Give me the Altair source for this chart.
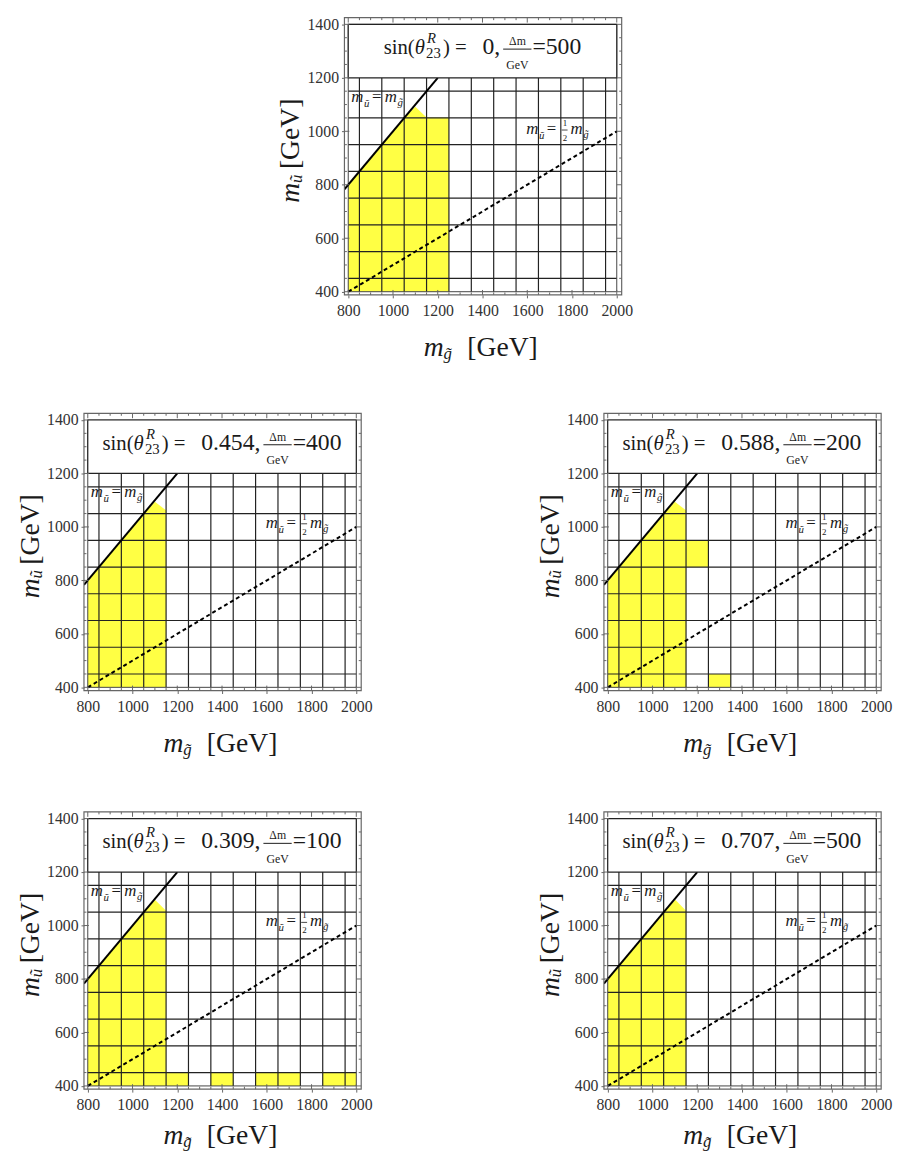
import altair as alt
import pandas as pd

# ---------------- data ----------------
panel_sin = ["0", "0.454", "0.588", "0.309", "0.707"]
panel_dm = ["500", "400", "200", "100", "500"]

# top boundary of the main yellow region (area down to 400)
yellow_x = [
    [800, 1060, 1100, 1150, 1250],
    [800, 1060, 1100, 1150],
    [800, 1060, 1100, 1150],
    [800, 1060, 1100, 1150],
    [800, 1060, 1102, 1150],
]
yellow_y = [
    [800, 1060, 1092, 1052, 1052],
    [800, 1060, 1094, 1062],
    [800, 1060, 1094, 1062],
    [800, 1060, 1096, 1055],
    [800, 1060, 1096, 1055],
]
# extra yellow cells
cell_x1 = [[], [], [1150, 1250], [1150, 1350, 1550, 1850], []]
cell_x2 = [[], [], [1250, 1350], [1250, 1450, 1750, 2000], []]
cell_y1 = [[], [], [850, 400], [400, 400, 400, 400], []]
cell_y2 = [[], [], [950, 450], [450, 450, 450, 450], []]

grid_x = [850, 950, 1050, 1150, 1250, 1350, 1450, 1550, 1650, 1750, 1850, 1950]
grid_y = [450, 550, 650, 750, 850, 950, 1050, 1150]
x_ticks = [800, 1000, 1200, 1400, 1600, 1800, 2000]
y_ticks = [400, 600, 800, 1000, 1200, 1400]
x_minor = [850, 900, 950, 1050, 1100, 1150, 1250, 1300, 1350, 1450, 1500,
           1550, 1650, 1700, 1750, 1850, 1900, 1950]
y_minor = [450, 500, 550, 650, 700, 750, 850, 900, 950, 1050, 1100, 1150,
           1250, 1300, 1350]

diag_x = [783, 1200]
diag_y = [783, 1200]
half_x = [800, 2000]
half_y = [400, 1000]

# ---------------- style ----------------
SERIF = "Liberation Serif"
X0, X1 = 783, 2022
Y0, Y1 = 388, 1425
W = H = 281
YELLOW = "#ffff44"
GRID = "#222222"
FRAME = "#666666"
TXT = "#1a1a1a"

MET = {"s": 0.389, "i": 0.278, "n": 0.5, "(": 0.333, ")": 0.333, "θ": 0.5,
       " ": 0.25, "=": 0.564, ".": 0.25, ",": 0.25, "Δ": 0.612, "m": 0.778,
       "G": 0.722, "e": 0.444, "V": 0.722, "R": 0.611, "[": 0.333, "]": 0.333}


def tw(s, size):
    return sum(MET.get(c, 0.5) for c in s) * size


def px(x):
    return (x - X0) / (X1 - X0) * W


def py(y):
    return (Y1 - y) / (Y1 - Y0) * H


ONE = pd.DataFrame({"k": [0]})


def XS():
    return alt.Scale(domain=[X0, X1], nice=False, zero=False)


def YS():
    return alt.Scale(domain=[Y0, Y1], nice=False, zero=False)


def XAX():
    return alt.Axis(values=x_ticks, format="d", labelFont=SERIF,
                    labelFontSize=16, labelColor="#333333", grid=False,
                    domain=False, tickSize=3, tickColor=FRAME, labelPadding=5,
                    title=None, labelFlush=False)


def YAX():
    return alt.Axis(values=y_ticks, format="d", labelFont=SERIF,
                    labelFontSize=16, labelColor="#333333", grid=False,
                    domain=False, tickSize=3, tickColor=FRAME, labelPadding=3,
                    title=None, labelFlush=False)


def EX(field):
    return alt.X(field, scale=XS(), axis=XAX())


def EY(field):
    return alt.Y(field, scale=YS(), axis=YAX())


def text_at(text, x, y, size, italic=False, angle=0, color=TXT):
    kw = dict(text=text, font=SERIF, fontSize=size, align="left",
              baseline="alphabetic", color=color)
    if italic:
        kw["fontStyle"] = "italic"
    if angle:
        kw["angle"] = angle
    return alt.Chart(ONE).mark_text(**kw).encode(x=alt.value(x), y=alt.value(y))


def bar_at(x1, x2, y, width=1.0):
    return alt.Chart(ONE).mark_rule(color=TXT, strokeWidth=width).encode(
        x=alt.value(x1), x2=alt.value(x2), y=alt.value(y))


def inner_ticks(vals, length, horizontal):
    df = pd.DataFrame({"v": vals})
    out = []
    if horizontal:  # ticks along x on bottom and top frame
        for a, b in ((H, H - length), (0, length)):
            out.append(alt.Chart(df).mark_rule(color=FRAME, strokeWidth=1).encode(
                x=EX("v:Q"), y=alt.value(a), y2=alt.value(b)))
    else:
        for a, b in ((0, length), (W, W - length)):
            out.append(alt.Chart(df).mark_rule(color=FRAME, strokeWidth=1).encode(
                y=EY("v:Q"), x=alt.value(a), x2=alt.value(b)))
    return out


def panel(i, ann2_y, title_off):
    n = len(yellow_x[i])
    area = alt.Chart(pd.DataFrame({"x": yellow_x[i], "y": yellow_y[i],
                                   "b": [400] * n})).mark_area(
        color=YELLOW, opacity=1, interpolate="linear").encode(
        x=EX("x:Q"), y=EY("y:Q"), y2="b:Q")
    layers = [area]
    if cell_x1[i]:
        layers.append(alt.Chart(pd.DataFrame({
            "x": cell_x1[i], "x2": cell_x2[i], "y": cell_y1[i], "y2": cell_y2[i]
        })).mark_rect(color=YELLOW, opacity=1).encode(
            x=EX("x:Q"), x2="x2:Q", y=EY("y:Q"), y2="y2:Q"))
    ng = len(grid_x)
    layers.append(alt.Chart(pd.DataFrame({"x": grid_x, "y": [400] * ng,
                                          "y2": [1200] * ng})).mark_rule(
        color=GRID, strokeWidth=1.2).encode(x=EX("x:Q"), y=EY("y:Q"), y2="y2:Q"))
    nh = len(grid_y)
    layers.append(alt.Chart(pd.DataFrame({"y": grid_y, "x": [800] * nh,
                                          "x2": [2000] * nh})).mark_rule(
        color=GRID, strokeWidth=1.2).encode(x=EX("x:Q"), x2="x2:Q", y=EY("y:Q")))
    # inner rectangle
    layers.append(alt.Chart(pd.DataFrame({"x": [800], "x2": [2000], "y": [400],
                                          "y2": [1400]})).mark_rect(
        fillOpacity=0, stroke="#444444", strokeWidth=1).encode(
        x=EX("x:Q"), x2="x2:Q", y=EY("y:Q"), y2="y2:Q"))
    # lines
    layers.append(alt.Chart(pd.DataFrame({"x": diag_x, "y": diag_y})).mark_line(
        color="black", strokeWidth=2, clip=True).encode(x=EX("x:Q"), y=EY("y:Q")))
    layers.append(alt.Chart(pd.DataFrame({"x": half_x, "y": half_y})).mark_line(
        color="black", strokeWidth=2, strokeDash=[4, 3]).encode(
        x=EX("x:Q"), y=EY("y:Q")))
    # legend box
    layers.append(alt.Chart(pd.DataFrame({"x": [800], "x2": [2000], "y": [1200],
                                          "y2": [1400]})).mark_rect(
        fill="white", stroke=GRID, strokeWidth=1.2).encode(
        x=EX("x:Q"), x2="x2:Q", y=EY("y:Q"), y2="y2:Q"))
    # frame and inward frame ticks
    layers.append(alt.Chart(ONE).mark_rect(
        fillOpacity=0, stroke=FRAME, strokeWidth=1.2).encode(
        x=alt.value(0), x2=alt.value(W), y=alt.value(0), y2=alt.value(H)))
    layers += inner_ticks(x_ticks, 5, True)
    layers += inner_ticks(x_minor, 2.5, True)
    layers += inner_ticks(y_ticks, 5, False)
    layers += inner_ticks(y_minor, 2.5, False)

    # legend text
    S1, S2, SS, FS = 21, 24, 15, 12
    pieces = []
    cur = 0.0
    a = "sin("
    pieces.append((a, cur, 3, S1, False))
    cur += tw(a, S1)
    pieces.append(("θ", cur, 3, S1, True))
    cur += tw("θ", S1) + 1
    pieces.append(("R", cur + 1, -8, SS, True))
    pieces.append(("23", cur, 7, SS, False))
    cur += tw("23", SS) + 2
    b = ") ="
    pieces.append((b, cur, 3, S1, False))
    cur += tw(b, S1) + 16
    c = panel_sin[i] + ","
    pieces.append((c, cur, 3, S2, False))
    cur += tw(c, S2) + 3
    fw = max(tw("Δm", FS), tw("GeV", FS)) + 6
    fx = cur
    pieces.append(("Δm", cur + (fw - tw("Δm", FS)) / 2, -6, FS, False))
    pieces.append(("GeV", cur + (fw - tw("GeV", FS)) / 2, 18, FS, False))
    cur += fw + 1
    d = "=" + panel_dm[i]
    pieces.append((d, cur, 3, S2, False))
    cur += tw(d, S2)
    x0 = px(1400) - cur / 2
    cy = py(1300)
    for t, xo, dy, sz, it in pieces:
        layers.append(text_at(t, x0 + xo, cy + dy, sz, italic=it))
    layers.append(bar_at(x0 + fx, x0 + fx + fw, cy - 2))

    # annotation m_u = m_g
    ax, ay = px(800), py(1100)
    layers.append(text_at("m", ax + 3, ay - 3, 17, italic=True))
    layers.append(text_at("ũ", ax + 16, ay + 2, 11, italic=True))
    layers.append(text_at("=", ax + 24, ay - 3, 17))
    layers.append(text_at("m", ax + 37, ay - 3, 17, italic=True))
    layers.append(text_at("g\u0303", ax + 50, ay + 1, 11, italic=True))
    # annotation m_u = 1/2 m_g
    bx, by = px(1595), py(ann2_y)
    layers.append(text_at("m", bx, by, 17, italic=True))
    layers.append(text_at("ũ", bx + 13, by + 5, 11, italic=True))
    layers.append(text_at("=", bx + 21, by, 17))
    layers.append(text_at("1", bx + 37, by - 8, 9))
    layers.append(text_at("2", bx + 37, by + 7, 9))
    layers.append(bar_at(bx + 36, bx + 42, by - 4, 0.8))
    layers.append(text_at("m", bx + 45, by, 17, italic=True))
    layers.append(text_at("g\u0303", bx + 58, by + 4, 11, italic=True))

    # axis titles
    tx, tyb = W / 2 - 60, H + title_off
    layers.append(text_at("m", tx, tyb, 28, italic=True))
    layers.append(text_at("g\u0303", tx + 20, tyb + 3, 17, italic=True))
    layers.append(text_at("[GeV]", tx + 44, tyb, 28))
    yxb, yys = -46, H / 2 + 47
    layers.append(text_at("m", yxb, yys, 28, italic=True, angle=270))
    layers.append(text_at("ũ", yxb + 3, yys - 20, 17, italic=True, angle=270))
    layers.append(text_at("[GeV]", yxb, yys - 34, 28, angle=270))

    return alt.layer(*layers).properties(width=W, height=H)


spacer = alt.Chart(ONE).mark_point(opacity=0, size=1).encode(
    x=alt.value(1), y=alt.value(1)).properties(width=194, height=2)

top_row = alt.hconcat(spacer, panel(0, 990, 62), spacing=0)
row2 = alt.hconcat(panel(1, 997, 62), panel(2, 997, 62), spacing=165)
row3 = alt.hconcat(panel(3, 997, 56), panel(4, 997, 56), spacing=165)

upper = alt.vconcat(top_row, row2, spacing=49)
chart = alt.vconcat(upper, row3, spacing=52).properties(
    padding={"left": 8, "top": 0, "right": 0, "bottom": 0}
).configure_view(stroke="transparent")

chart.save("out.html", embed_options={"renderer": "svg", "actions": False})
